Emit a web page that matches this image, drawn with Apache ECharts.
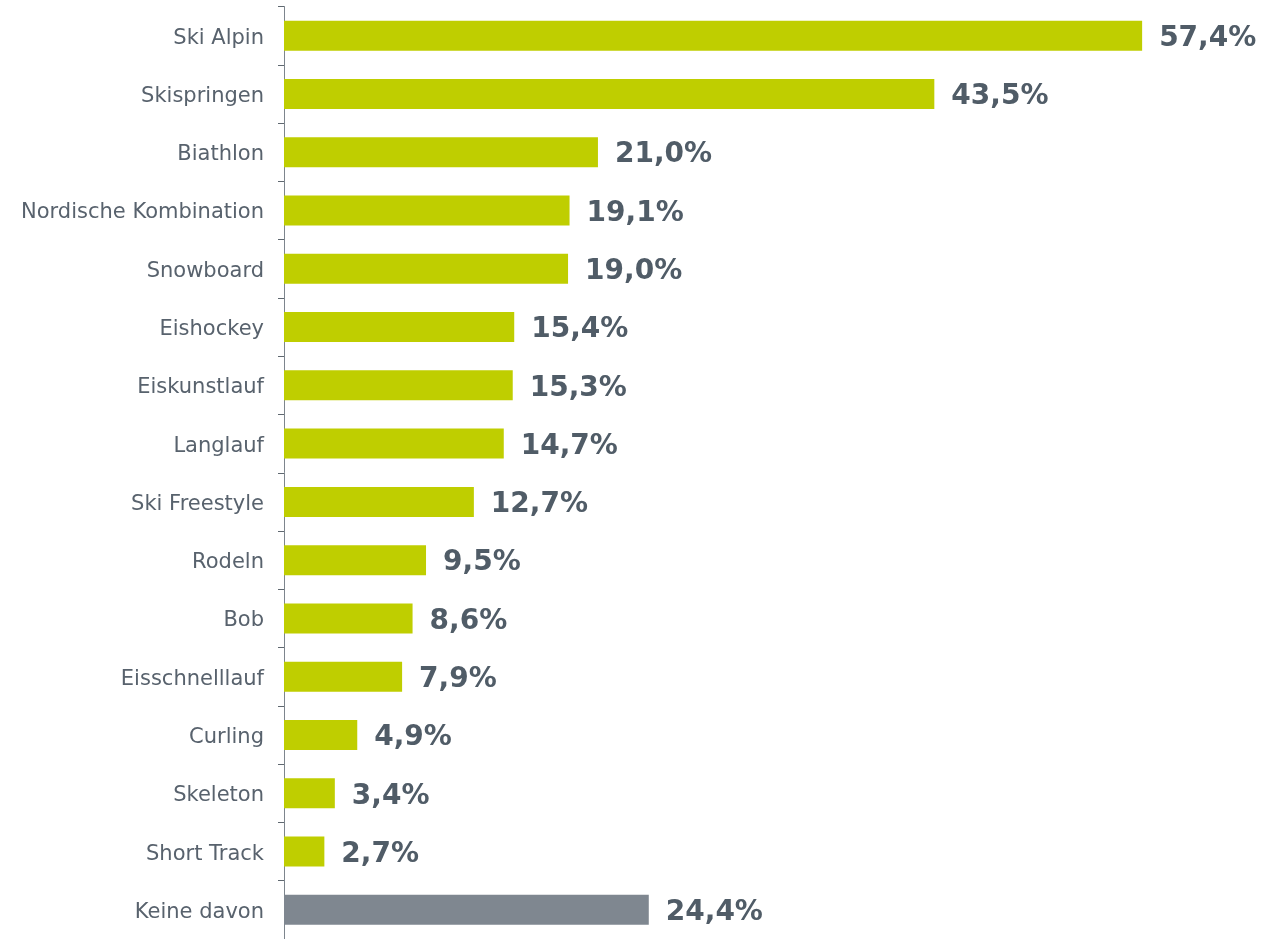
<!doctype html>
<html lang="de">
<head>
    <meta charset="UTF-8">
    <title>Wintersportarten</title>
    <script src="https://cdn.jsdelivr.net/npm/echarts@6/dist/echarts.min.js"></script>
    <style>
        html, body { margin: 0; padding: 0; background: #fff; }
        #main { width: 1270px; height: 939px; }
    </style>
</head>
<body>
<div id="main"></div>
<script>
    // Kategorien (von oben nach unten)
    var categories = ['Ski Alpin', 'Skispringen', 'Biathlon', 'Nordische Kombination', 'Snowboard',
        'Eishockey', 'Eiskunstlauf', 'Langlauf', 'Ski Freestyle', 'Rodeln', 'Bob',
        'Eisschnelllauf', 'Curling', 'Skeleton', 'Short Track', 'Keine davon'];
    var values = [57.4, 43.5, 21.0, 19.1, 19.0, 15.4, 15.3, 14.7, 12.7, 9.5, 8.6, 7.9, 4.9, 3.4, 2.7, 24.4];
    var highlight = 'Keine davon';

    var myChart = echarts.init(document.getElementById('main'));

    var option = {
        animation: false,
        grid: {
            left: 284,
            right: 89,
            top: 6.5,
            height: 936.5
        },
        xAxis: {
            type: 'value',
            min: 0,
            max: 60,
            show: false
        },
        yAxis: {
            type: 'category',
            inverse: true,
            data: categories,
            axisLine: {show: true, lineStyle: {color: '#7d858d', width: 1}},
            axisTick: {show: true, length: 6, lineStyle: {color: '#5f6870'}},
            axisLabel: {
                margin: 20,
                color: '#58626d',
                fontSize: 21,
                fontFamily: 'DejaVu Sans',
                formatter: '{a|{value}}',
                rich: {
                    a: {
                        color: '#58626d',
                        fontSize: 21,
                        fontFamily: 'DejaVu Sans',
                        padding: [5, 0, 0, 0]
                    }
                }
            },
            splitLine: {show: false}
        },
        series: [{
            type: 'bar',
            barWidth: 30,
            data: values.map(function (v, i) {
                return {
                    value: v,
                    itemStyle: {color: categories[i] === highlight ? '#7f8790' : '#bfce00'}
                };
            }),
            label: {
                show: true,
                position: 'right',
                distance: 17,
                offset: [0, 3],
                color: '#505c67',
                fontSize: 28,
                fontWeight: 'bold',
                fontFamily: 'DejaVu Sans',
                formatter: function (p) {
                    return p.value.toFixed(1).replace('.', ',') + '%';
                }
            }
        }]
    };
    myChart.setOption(option);
</script>
</body>
</html>
